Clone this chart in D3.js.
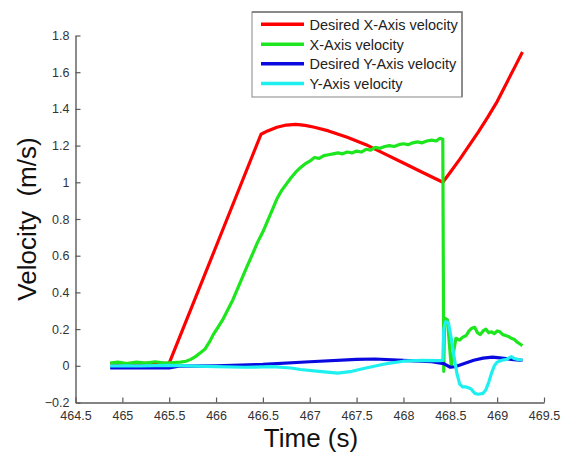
<!DOCTYPE html>
<html>
<head>
<meta charset="utf-8">
<script src="https://cdn.jsdelivr.net/npm/d3@7/dist/d3.min.js"></script>
<style>
  html, body { margin: 0; padding: 0; background: #fff; }
  svg { display: block; font-family: Arial, "Liberation Sans", Helvetica, sans-serif; }
</style>
</head>
<body>
<svg id="chart" width="561" height="454"></svg>
<script>
// Tick values
const xTicks = [464.5, 465, 465.5, 466, 466.5, 467, 467.5, 468, 468.5, 469, 469.5];
const yTicks = [-0.2, 0, 0.2, 0.4, 0.6, 0.8, 1, 1.2, 1.4, 1.6, 1.8];

// Desired X-Axis velocity
const desXTime = [464.87, 465.0, 465.5, 466.0, 466.48, 466.55, 466.65, 466.75, 466.85, 466.95, 467.05, 467.2, 467.4, 467.6, 467.8, 468.0, 468.2, 468.42, 468.5, 468.6, 468.7, 468.8, 468.9, 469.0, 469.1, 469.2, 469.27];
const desXVel  = [0.012, 0.012, 0.015, 0.65, 1.262, 1.28, 1.30, 1.312, 1.316, 1.31, 1.30, 1.28, 1.245, 1.205, 1.155, 1.105, 1.055, 1.0, 1.055, 1.125, 1.2, 1.275, 1.355, 1.44, 1.54, 1.64, 1.71];

// Measured X-Axis velocity
const xTime = [464.87, 464.95, 465.05, 465.15, 465.25, 465.35, 465.45, 465.55, 465.62, 465.68, 465.73, 465.78, 465.83, 465.88, 465.93, 465.97, 466.02, 466.07, 466.12, 466.18, 466.23, 466.28, 466.33, 466.39, 466.44, 466.5, 466.55, 466.6, 466.65, 466.7, 466.75, 466.8, 466.85, 466.9, 466.95, 467.0, 467.05, 467.1, 467.15, 467.2, 467.25, 467.3, 467.35, 467.4, 467.45, 467.5, 467.55, 467.6, 467.65, 467.7, 467.75, 467.8, 467.85, 467.9, 467.95, 468.0, 468.05, 468.1, 468.15, 468.2, 468.25, 468.3, 468.35, 468.39, 468.42, 468.43, 468.44, 468.47, 468.49, 468.51, 468.53, 468.56, 468.6, 468.63, 468.67, 468.7, 468.73, 468.76, 468.79, 468.82, 468.85, 468.88, 468.91, 468.94, 468.97, 469.0, 469.03, 469.06, 469.09, 469.12, 469.15, 469.18, 469.21, 469.24, 469.27];
const xVel  = [0.015, 0.02, 0.012, 0.02, 0.015, 0.022, 0.015, 0.018, 0.02, 0.025, 0.035, 0.05, 0.07, 0.09, 0.13, 0.17, 0.21, 0.25, 0.30, 0.36, 0.42, 0.48, 0.54, 0.61, 0.67, 0.73, 0.79, 0.85, 0.91, 0.955, 0.99, 1.025, 1.055, 1.08, 1.10, 1.115, 1.135, 1.13, 1.145, 1.15, 1.155, 1.16, 1.155, 1.165, 1.16, 1.17, 1.165, 1.18, 1.175, 1.19, 1.185, 1.195, 1.2, 1.195, 1.205, 1.21, 1.205, 1.215, 1.22, 1.215, 1.225, 1.23, 1.225, 1.24, 1.235, -0.03, 0.26, 0.25, 0.12, 0.0, 0.06, 0.15, 0.14, 0.155, 0.165, 0.19, 0.205, 0.21, 0.18, 0.17, 0.19, 0.2, 0.18, 0.185, 0.175, 0.19, 0.185, 0.17, 0.165, 0.16, 0.15, 0.145, 0.13, 0.12, 0.11];

// Desired Y-Axis velocity
const desYTime = [464.87, 465.5, 465.6, 466.0, 466.5, 467.0, 467.5, 467.7, 468.0, 468.3, 468.43, 468.5, 468.55, 468.65, 468.75, 468.85, 468.95, 469.05, 469.15, 469.27];
const desYVel  = [-0.012, -0.012, -0.002, 0.0, 0.008, 0.022, 0.035, 0.037, 0.03, 0.022, 0.012, -0.008, -0.005, 0.012, 0.03, 0.042, 0.047, 0.042, 0.035, 0.03];

// Measured Y-Axis velocity
const yTime = [464.87, 465.2, 465.5, 465.7, 466.0, 466.3, 466.6, 466.8, 466.9, 467.1, 467.3, 467.45, 467.6, 467.8, 468.0, 468.2, 468.38, 468.42, 468.43, 468.45, 468.48, 468.51, 468.54, 468.57, 468.6, 468.63, 468.67, 468.72, 468.76, 468.8, 468.85, 468.88, 468.91, 468.94, 468.97, 469.0, 469.05, 469.1, 469.15, 469.18, 469.22, 469.27];
const yVel  = [0.0, 0.0, 0.002, 0.0, -0.005, -0.008, -0.005, -0.012, -0.02, -0.03, -0.04, -0.03, -0.012, 0.01, 0.025, 0.03, 0.028, 0.03, 0.2, 0.24, 0.235, 0.15, 0.05, -0.04, -0.1, -0.115, -0.115, -0.125, -0.15, -0.155, -0.15, -0.13, -0.09, -0.04, 0.0, 0.02, 0.03, 0.035, 0.05, 0.04, 0.035, 0.03];

const seriesNames = ["Desired X-Axis velocity", "X-Axis velocity", "Desired Y-Axis velocity", "Y-Axis velocity"];
const seriesColors = ["#ff0000", "#1ee61e", "#0a0ae0", "#1ef0f0"];

const series = [
  { name: seriesNames[0], color: seriesColors[0], t: desXTime, v: desXVel },
  { name: seriesNames[1], color: seriesColors[1], t: xTime, v: xVel },
  { name: seriesNames[2], color: seriesColors[2], t: desYTime, v: desYVel },
  { name: seriesNames[3], color: seriesColors[3], t: yTime, v: yVel }
];

const svg = d3.select("#chart");
const x = d3.scaleLinear().domain([464.5, 469.5]).range([75.5, 544]);
const y = d3.scaleLinear().domain([-0.2, 1.8]).range([402.5, 35.5]);

// Curves
const line = d3.line().x(d => x(d[0])).y(d => y(d[1]));
series.forEach(s => {
  svg.append("path")
    .datum(s.t.map((t, i) => [t, s.v[i]]))
    .attr("fill", "none")
    .attr("stroke", s.color)
    .attr("stroke-width", 3.2)
    .attr("stroke-linejoin", "round")
    .attr("d", line);
});

// Axes with inward ticks
const axisColor = "#5a5a5a";
const gx = svg.append("g").attr("transform", "translate(0,402.5)")
  .call(d3.axisBottom(x).tickValues(xTicks).tickFormat(d3.format("")).tickSizeInner(-5).tickSizeOuter(0).tickPadding(9));
const gy = svg.append("g").attr("transform", "translate(75.5,0)")
  .call(d3.axisLeft(y).tickValues(yTicks).tickFormat(d3.format("")).tickSizeInner(-5).tickSizeOuter(0).tickPadding(6));
[gx, gy].forEach(g => {
  g.select(".domain").attr("stroke", axisColor).attr("stroke-width", 1.4);
  g.selectAll(".tick line").attr("stroke", axisColor).attr("stroke-width", 1.2);
  g.selectAll(".tick text").attr("fill", "#333").attr("font-size", 12.5)
    .attr("font-family", "Arial, 'Liberation Sans', sans-serif");
});

// Axis titles
svg.append("text")
  .attr("x", 311).attr("y", 447)
  .attr("text-anchor", "middle")
  .attr("font-size", 26)
  .attr("fill", "#111")
  .text("Time (s)");
svg.append("text")
  .attr("transform", "translate(36,219) rotate(-90)")
  .attr("text-anchor", "middle")
  .attr("font-size", 26)
  .attr("fill", "#111")
  .attr("xml:space", "preserve")
  .style("white-space", "pre")
  .text("Velocity  (m/s)");

// Legend
const lg = svg.append("g");
lg.append("rect")
  .attr("x", 252).attr("y", 12).attr("width", 210).attr("height", 85)
  .attr("fill", "#fff").attr("stroke", "#9a9a9a").attr("stroke-width", 1.2);
lg.append("path")
  .attr("d", "M252,12H462V97")
  .attr("fill", "none").attr("stroke", "#777").attr("stroke-width", 1.4);
const rowY = [24.3, 44.3, 63.8, 83.5];
series.forEach((s, i) => {
  lg.append("line")
    .attr("x1", 261).attr("x2", 304)
    .attr("y1", rowY[i]).attr("y2", rowY[i])
    .attr("stroke", s.color).attr("stroke-width", 3.5);
  lg.append("text")
    .attr("x", 309.5).attr("y", rowY[i])
    .attr("dy", "0.36em")
    .attr("font-size", 14.5)
    .attr("fill", "#222")
    .text(s.name);
});
</script>
</body>
</html>
